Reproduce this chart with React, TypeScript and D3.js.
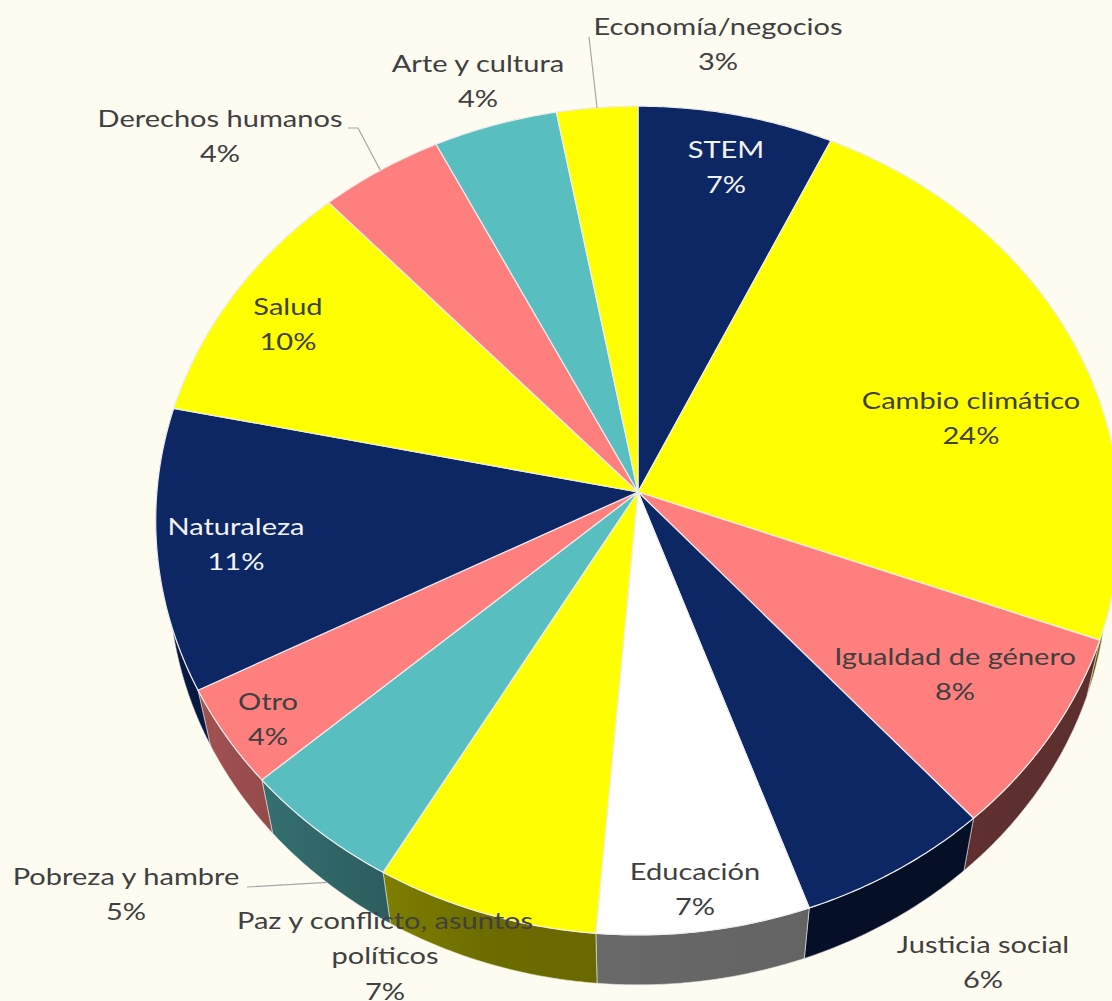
import React, { useEffect } from 'react';
import * as d3 from 'd3';

// Temas de los proyectos (porcentaje del total), en el orden del gráfico
const categories = [
  'STEM',
  'Cambio climático',
  'Igualdad de género',
  'Justicia social',
  'Educación',
  'Paz y conflicto, asuntos políticos',
  'Pobreza y hambre',
  'Otro',
  'Naturaleza',
  'Salud',
  'Derechos humanos',
  'Arte y cultura',
  'Economía/negocios',
];
const values = [7.0, 23.7, 7.8, 6.1, 6.7, 7.0, 5.1, 3.9, 11.0, 9.9, 4.45, 4.45, 2.9];

const W = 1112;
const H = 1001;
const BG = '#FEFCF1';

const NAVY = '#0D2764';
const YELLOW = '#FFFF00';
const PINK = '#FF7F7F';
const TEAL = '#59BEC0';
const WHITE = '#FFFFFF';
const sliceColors = [NAVY, YELLOW, PINK, NAVY, WHITE, YELLOW, TEAL, PINK, NAVY, YELLOW, PINK, TEAL, YELLOW];

// tilted disc seen with a bit of perspective
const view = { cx: 638, cy: 492, focal: 3594, dist: 7.47, tilt: 59, depth: 0.243 };
const sinA = Math.sin((view.tilt * Math.PI) / 180);
const cosA = Math.cos((view.tilt * Math.PI) / 180);
// the original picture is stretched sideways, text included
const TEXT_STRETCH = 1.21;

// theta: clockwise from 12 o'clock, r: 0..1, t: 0 (top face) .. depth (bottom)
function project(theta: number, r: number, t: number): [number, number] {
  const X = r * Math.sin(theta);
  const Yd = r * Math.cos(theta);
  const Y3 = Yd * sinA - t * cosA;
  const Z3 = Yd * cosA + t * sinA;
  const k = view.focal / (view.dist + Z3);
  return [view.cx + X * k, view.cy - Y3 * k];
}

function arcPoints(a0: number, a1: number, t: number): [number, number][] {
  const n = Math.max(2, Math.ceil((a1 - a0) / 0.008));
  return d3.range(n + 1).map((i) => project(a0 + ((a1 - a0) * i) / n, 1, t));
}

// label placement: centre x, first baseline, and optional leader line from the text to the pie
const labelLayout = [
  { x: 726, y: 158, inside: true },
  { x: 971, y: 409, inside: true },
  { x: 955, y: 665, inside: true },
  { x: 983, y: 953, inside: false },
  { x: 695, y: 880, inside: true },
  { x: 385, y: 929, inside: false },
  { x: 126, y: 885, inside: false, leader: [[247, 887]], rim: 'bottom' },
  { x: 268, y: 710, inside: true },
  { x: 236, y: 535, inside: true },
  { x: 288, y: 315, inside: true },
  { x: 220, y: 127, inside: false, leader: [[348, 128], [358, 128]], rim: 'top' },
  { x: 478, y: 72, inside: false },
  { x: 718, y: 35, inside: false, leader: [[589, 37]], rim: 'top' },
];

function wrap(name: string): string[] {
  if (name.length <= 25) return [name];
  const cut = name.lastIndexOf(' ', 25);
  return [name.slice(0, cut), name.slice(cut + 1)];
}

const App = () => {
  useEffect(() => {
    document.body.style.margin = '0';
    document.body.style.background = BG;
  }, []);

  const arcs = d3
    .pie<number>()
    .sort(null)
    .value((d) => d)
    .startAngle(0)
    .endAngle(2 * Math.PI)(values);

  const line = d3.line();
  const centre = project(0, 0, 0);

  const tops = arcs.map((a) => line([centre, ...arcPoints(a.startAngle, a.endAngle, 0)]) + 'Z');
  const walls = arcs.map((a) => {
    const top = arcPoints(a.startAngle, a.endAngle, 0);
    const bottom = arcPoints(a.startAngle, a.endAngle, view.depth).reverse();
    return line([...top, ...bottom]) + 'Z';
  });

  return (
    <svg width={W} height={H} style={{ position: 'absolute', left: 0, top: 0, background: BG }}>
      <defs>
        <linearGradient id="wallShade" gradientUnits="userSpaceOnUse" x1={150} y1={0} x2={1112} y2={0}>
          <stop offset="0" stopColor="#000" stopOpacity={0.32} />
          <stop offset="0.19" stopColor="#000" stopOpacity={0.47} />
          <stop offset="0.36" stopColor="#000" stopOpacity={0.58} />
          <stop offset="1" stopColor="#000" stopOpacity={0.64} />
        </linearGradient>
      </defs>
      <rect width={W} height={H} fill={BG} />

      {walls.map((d, i) => (
        <g key={'w' + i}>
          <path d={d} fill={sliceColors[i]} />
          <path d={d} fill="url(#wallShade)" />
          <path d={d} fill="none" stroke="#E8E8E8" strokeOpacity={0.6} strokeWidth={1} />
        </g>
      ))}

      {tops.map((d, i) => (
        <path key={'t' + i} d={d} fill={sliceColors[i]} stroke="#EDEDED" strokeWidth={1.2} strokeLinejoin="round" />
      ))}

      {labelLayout.map((l, i) => {
        if (!l.leader) return null;
        const mid = (arcs[i].startAngle + arcs[i].endAngle) / 2;
        const end = project(mid, 1, l.rim === 'bottom' ? view.depth : 0);
        return (
          <path
            key={'l' + i}
            d={line([...(l.leader as [number, number][]), end]) as string}
            fill="none"
            stroke="#A6A6A6"
            strokeWidth={1.2}
          />
        );
      })}

      {categories.map((name, i) => {
        const l = labelLayout[i];
        const lines = [...wrap(name), `${Math.round(values[i])}%`];
        const fill = l.inside && sliceColors[i] === NAVY ? '#F2F2F2' : '#404040';
        return (
          <text
            key={'x' + i}
            transform={`translate(${l.x},${l.y}) scale(${TEXT_STRETCH},1)`}
            textAnchor="middle"
            fontFamily="Lato, 'Open Sans', sans-serif"
            fontSize={24}
            fill={fill}
          >
            {lines.map((s, j) => (
              <tspan key={j} x={0} dy={j === 0 ? 0 : 35.5}>
                {s}
              </tspan>
            ))}
          </text>
        );
      })}
    </svg>
  );
};

export default App;
